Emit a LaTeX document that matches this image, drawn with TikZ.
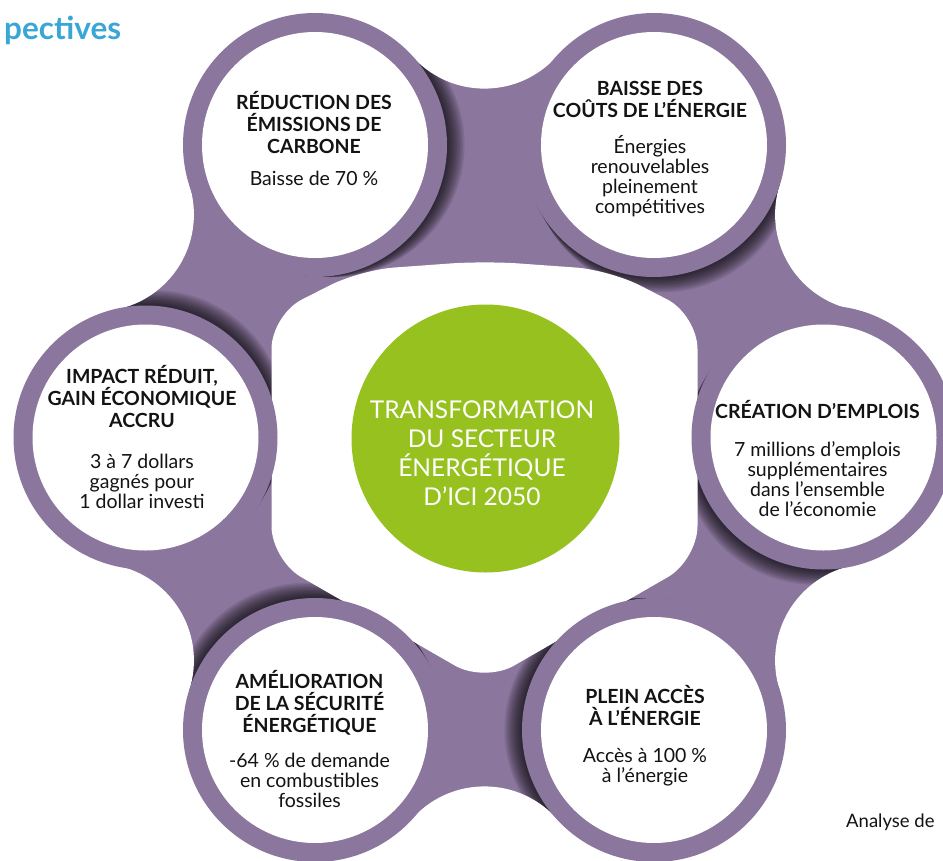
\documentclass[tikz,border=0pt]{standalone}
\usepackage{fontspec}
\setmainfont{Lato}
\usetikzlibrary{calc}
\definecolor{ringpurple}{RGB}{139,118,157}
\definecolor{coregreen}{RGB}{150,193,31}
\definecolor{headblue}{RGB}{58,166,214}
\definecolor{inkblack}{RGB}{20,18,20}
\begin{document}
\begin{tikzpicture}[x=1pt,y=-1pt,
  txtblock/.style={inner sep=0pt, anchor=north, align=center, text=inkblack, font=\fontsize{19.5}{22}\selectfont},
  ringdisc/.style={fill=ringpurple},
  innerdisc/.style={fill=white},
  shadowlayer/.style={fill=black, fill opacity=0.085}]
\useasboundingbox (0,0) rectangle (943,860);
\clip (0,0) rectangle (943,860);
\fill[white] (0,0) rectangle (943,860);
% circle centres
\coordinate (A1) at (315,145);
\coordinate (A2) at (654,145);
\coordinate (A3) at (823.5,437.5);
\coordinate (A4) at (654,730);
\coordinate (A5) at (315,730);
\coordinate (A6) at (145.5,437.5);
% fillet centres (outer concave edges)
\coordinate (P1) at (484.5,-8.4);
\coordinate (P2) at (872.1,214.5);
\coordinate (P3) at (872.1,660.5);
\coordinate (P4) at (484.5,883.4);
\coordinate (P5) at (96.9,660.5);
\coordinate (P6) at (96.9,214.5);
% purple band base
\fill[ringpurple] (A1) -- (A2) -- (A3) -- (A4) -- (A5) -- (A6) -- cycle
  (A1) -- (P1) -- (A2) -- cycle
  (A2) -- (P2) -- (A3) -- cycle
  (A3) -- (P3) -- (A4) -- cycle
  (A4) -- (P4) -- (A5) -- cycle
  (A5) -- (P5) -- (A6) -- cycle
  (A6) -- (P6) -- (A1) -- cycle;
% shadows cast by each circle toward its clockwise neighbour
\begin{scope}
\clip (A1) -- (A2) -- (A3) -- (A4) -- (A5) -- (A6) -- cycle
  (A1) -- (P1) -- (A2) -- cycle
  (A2) -- (P2) -- (A3) -- cycle
  (A3) -- (P3) -- (A4) -- cycle
  (A4) -- (P4) -- (A5) -- cycle
  (A5) -- (P5) -- (A6) -- cycle
  (A6) -- (P6) -- (A1) -- cycle;
\foreach \cx/\cy/\ux/\uy in {315/145/1/0, 654/145/0.5/0.866, 823.5/437.5/-0.5/0.866, 654/730/-1/0, 315/730/-0.5/-0.866, 145.5/437.5/0.5/-0.866}{
  \foreach \k in {1,...,11}{
    \fill[shadowlayer] ({\cx+\k*1.6*\ux},{\cy+\k*1.6*\uy}) circle[radius=132pt];
  }
}
\end{scope}
% concave outer edges
\foreach \p in {P1,P2,P3,P4,P5,P6}{
  \fill[white] (\p) circle[radius=97pt];
}
% white central blob
\fill[white, rounded corners=34pt] (271.5,315) -- (360,270) -- (484.5,261) -- (610,270) -- (697.5,315) -- (697.5,560) -- (484.5,682.6) -- (271.5,560) -- cycle;
% the six ringed circles
\foreach \a in {A1,A2,A3,A4,A5,A6}{
  \fill[ringdisc] (\a) circle[radius=132pt];
  \fill[innerdisc] (\a) circle[radius=113pt];
}
% green core
\node[circle, fill=coregreen, minimum size=268pt, inner sep=0pt] (core) at (485.5,438.5) {};
\node[inner sep=0pt, anchor=north, align=center, text=white, font=\fontsize{24.5}{29}\selectfont] (coretext) at (482,398.5)
  {\rule{0pt}{20pt}TRANSFORMATION\\DU SECTEUR\\ÉNERGÉTIQUE\\D'ICI 2050};
% texts in the circles
\node[txtblock] (t1) at (314,89.3)
  {\rule{0pt}{20pt}\textbf{RÉDUCTION DES}\\\textbf{ÉMISSIONS DE}\\\textbf{CARBONE}\\[9.7pt]Baisse de 70~\%};
\node[txtblock] (t2) at (650,75)
  {\rule{0pt}{20pt}\textbf{BAISSE DES}\\\textbf{COÛTS DE L'ÉNERGIE}\\[14.7pt]Énergies\\[-2pt]renouvelables\\[-2pt]pleinement\\[-2pt]compétitives};
\node[txtblock] (t3) at (817.5,398)
  {\rule{0pt}{20pt}\textbf{CRÉATION D'EMPLOIS}\\[16.7pt]7 millions d'emplois\\[-2pt]supplémentaires\\[-2pt]dans l'ensemble\\[-2pt]de l'économie};
\node[txtblock] (t4) at (645,683.3)
  {\rule{0pt}{20pt}\textbf{PLEIN ACCÈS}\\\textbf{À L'ÉNERGIE}\\[15pt]Accès à 100~\%\\[-2pt]à l'énergie};
\node[txtblock] (t5) at (309.5,668.3)
  {\rule{0pt}{20pt}\textbf{AMÉLIORATION}\\\textbf{DE LA SÉCURITÉ}\\\textbf{ÉNERGÉTIQUE}\\[13pt]-64~\% de demande\\[-2pt]en combustibles\\[-2pt]fossiles};
\node[txtblock] (t6) at (142,363.3)
  {\rule{0pt}{20pt}\textbf{IMPACT RÉDUIT,}\\\textbf{GAIN ÉCONOMIQUE}\\\textbf{ACCRU}\\[18.7pt]3 à 7 dollars\\[-2pt]gagnés pour\\[-2pt]1 dollar investi};
% page fragments
\node[anchor=base west, inner sep=0pt, text=headblue, font=\fontsize{31.5}{34}\selectfont\bfseries] (hdr) at (4,39) {pectives};
\node[anchor=base west, inner sep=0pt, text=inkblack, font=\fontsize{18.5}{21}\selectfont] (src) at (846,827) {Analyse de};
\end{tikzpicture}
\end{document}
